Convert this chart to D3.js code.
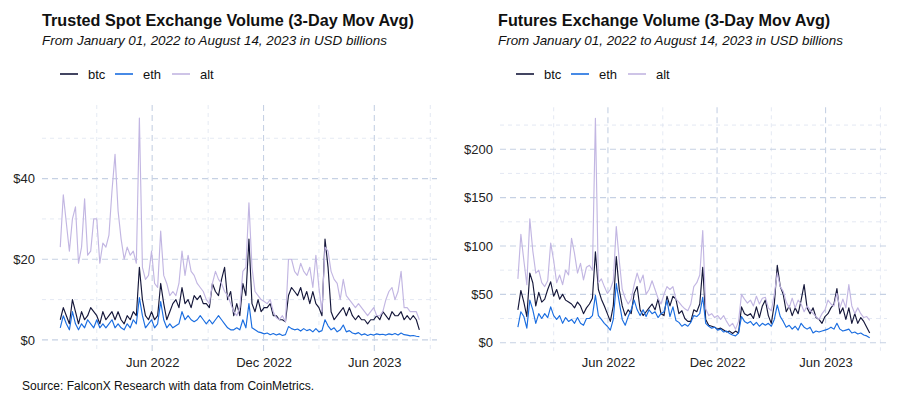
<!DOCTYPE html>
<html>
<head>
<meta charset="utf-8">
<script src="https://cdn.jsdelivr.net/npm/d3@7"></script>
<style>
  body { margin: 0; background: #fff; }
  svg { font-family: "Liberation Sans", Arial, sans-serif; }
</style>
</head>
<body>
<div id="chart"></div>
<script>
// one reading every 5 days, Jan 01 2022 -> Aug 14 2023 (in USD billions)
const START = new Date(2022, 0, 1);
const STEP_DAYS = 5;

const spotBtc = [5,8,6,4,10,7,4,7,5,6, 8,7,6,4,7,5,6,7,5,7, 5,4,6,5,7,6,18,10,6,5,
  7,5,6,14,9,5,7,9,10,8, 13,9,10,8,11,10,11,9,9,8, 14,12,11,15,18,10,12,6,9,6,
  14,11,25,9,7,10,7,8,8,9, 6,6,5,5,4.5,11,13,12,11,13, 10,12,9,12,9,8,6,25,18,7,
  5,6,7,8,6,8,6,5,6,5, 5,4,5,5,6,5,7,6,5,7, 6,6,7,5,6,5,6,5,2.5];
const spotEth = [3,6,4,2.5,7,4,2.5,4,3,5, 4,3,5,3,4,3,4,5,3,4, 3,2.5,4,3,5,4,10.5,6,3,4,
  5,3,4,9.5,5,3,4,3,3.5,4, 7,5,6,5,4.5,5,6,5,4,5, 4,5,6,5,4,3,2.5,2.5,3,2.5,
  5,3,9,3,2.5,2,1.8,1.5,1.7,1.3, 1.6,1.2,1.5,1.1,1.3,3.3,2.8,2.5,2.7,2.2, 2.8,2.3,2.6,2,2.8,2,2.3,5,3.5,2.5,
  3,2,2.5,3.7,2,2.3,1.7,1.5,1.8,1.2, 1.5,1.1,1.4,1.2,1.5,1.3,1.4,1.2,1.5,1.3, 1.6,1.2,1.7,1.3,1.2,1,1.1,0.9,0.8];
const spotAlt = [23,36,29,22,30,33,19,23,35,21, 22,30,30,19,24,23,26,37,46,32, 25,20,23,21,22,19,55,18,15,16,
  22,14,13,27,16,14,11,12,11,14, 22,16,21,17,16,14,13,12,10,9, 14,17,15,14,12,11,9,7,6,8,
  17,18,34,18,12,11,10,9.5,9,10, 7,5.5,5,6,4.5,20,20,17,16,19, 17,16,18,13,21,13,7,23,22,17,
  15,14,10,15,11,10,9,8,9,8, 7,6,7,8,6,6,7,10,12,13, 10,12,17,8,8,7,7,7,5];

const futBtc = [34,54,42,27,72,62,38,52,42,45, 55,63,48,55,45,50,44,42,40,36, 42,38,30,36,40,46,94,55,45,38,
  30,22,38,89,55,38,28,34,30,51, 58,34,28,32,36,40,34,45,30,28, 48,38,48,45,30,33,25,22,22,34,
  32,40,78,24,18,17,16,14,15,13, 11,12,9.5,12,10,37,30,28,30,25, 37,26,38,44,28,20,40,80,58,50,
  32,38,28,36,30,44,60,36,30,36, 26,24,20,27,30,36,40,56,30,36, 24,36,20,30,20,26,22,16,10];
const futEth = [16,32,27,15,44,34,20,30,25,30, 26,37,28,24,28,20,26,22,24,20, 26,20,18,25,25,28,49,28,24,20,
  17,13,24,61,42,24,18,27,34,44, 34,28,34,27,34,30,32,26,30,32, 44,27,37,23,21,17,19,17,21,28,
  27,30,47,20,17,15,16,13,14,11, 12,9.5,8,7,10,27,22,20,22,18, 21,17,20,18,20,17,24,39,27,22,
  16,18,14,17,13,20,16,14,16,10, 12,11,12,13,14,16,14,20,14,12, 13,14,10,11,9,10,8,7,5];
const futAlt = [66,112,85,60,128,95,72,75,62,58, 64,103,85,62,70,60,75,70,108,92, 72,82,65,78,80,75,232,62,66,58,
  51,55,64,120,85,55,46,40,45,60, 72,62,70,50,55,64,55,46,40,50, 58,55,58,45,42,38,35,33,40,58,
  62,70,116,35,28,30,26,28,24,28, 22,17,20,14,22,50,45,41,44,38, 48,40,46,47,36,33,50,72,58,53,
  42,36,46,36,44,40,32,38,34,30, 27,24,30,34,44,40,38,51,36,45, 36,60,38,30,36,30,26,27,23];

const seriesNames = ["btc", "eth", "alt"];
const colors = { btc: "#15173a", eth: "#1a6de0", alt: "#c2b6e2" };

const xMajor = [new Date(2022, 5, 1), new Date(2022, 11, 1), new Date(2023, 5, 1)];
const xMinor = [new Date(2022, 2, 2), new Date(2022, 8, 1), new Date(2023, 2, 2), new Date(2023, 8, 1)];

const spotMajor = [0, 20, 40];
const spotMinor = [10, 30, 50];
const futMajor = [0, 50, 100, 150, 200];
const futMinor = [25, 75, 125, 175, 225];

const dates = spotBtc.map((_, i) => d3.timeDay.offset(START, i * STEP_DAYS));

const width = 900, height = 400;
const svg = d3.select("#chart").append("svg")
  .attr("width", width).attr("height", height);

function panel(opt) {
  const g = svg.append("g");
  const pad = 29.5; // ggplot-ish expansion, in days
  const x = d3.scaleTime()
    .domain([d3.timeDay.offset(dates[0], -pad), d3.timeDay.offset(dates[dates.length - 1], pad)])
    .range([opt.left, opt.right]);
  const y = d3.scaleLinear().domain(opt.yDomain).range([opt.bottom, opt.top]);

  // grid
  const gridCol = "#c6d1e4";
  g.selectAll(".hmin").data(opt.yMinor).enter().append("line")
    .attr("x1", opt.left).attr("x2", opt.right)
    .attr("y1", d => y(d)).attr("y2", d => y(d))
    .attr("stroke", "#d8e0ee").attr("stroke-width", 0.7).attr("stroke-dasharray", "4,4");
  g.selectAll(".vmin").data(xMinor).enter().append("line")
    .attr("y1", opt.top).attr("y2", opt.bottom)
    .attr("x1", d => x(d)).attr("x2", d => x(d))
    .attr("stroke", "#d8e0ee").attr("stroke-width", 0.7).attr("stroke-dasharray", "4,4");
  g.selectAll(".hmaj").data(opt.yMajor).enter().append("line")
    .attr("x1", opt.left).attr("x2", opt.right)
    .attr("y1", d => y(d)).attr("y2", d => y(d))
    .attr("stroke", gridCol).attr("stroke-width", 1.1).attr("stroke-dasharray", "6,4");
  g.selectAll(".vmaj").data(xMajor).enter().append("line")
    .attr("y1", opt.top).attr("y2", opt.bottom)
    .attr("x1", d => x(d)).attr("x2", d => x(d))
    .attr("stroke", gridCol).attr("stroke-width", 1.1).attr("stroke-dasharray", "6,4");

  // axis labels
  const yAxis = g.append("g").attr("transform", `translate(${opt.left},0)`)
    .call(d3.axisLeft(y).tickValues(opt.yMajor).tickSize(0).tickPadding(7).tickFormat(d => "$" + d));
  const xAxis = g.append("g").attr("transform", `translate(0,${opt.bottom})`)
    .call(d3.axisBottom(x).tickValues(xMajor).tickSize(0).tickPadding(7).tickFormat(d3.timeFormat("%b %Y")));
  [yAxis, xAxis].forEach(a => {
    a.select(".domain").remove();
    a.selectAll("text").attr("font-size", 13).attr("fill", "#222")
      .attr("font-family", "Liberation Sans, Arial, sans-serif");
  });

  // lines
  const line = d3.line().x((d, i) => x(dates[i])).y(d => y(d));
  seriesNames.forEach(name => {
    g.append("path").datum(opt.data[name])
      .attr("fill", "none").attr("stroke", colors[name])
      .attr("stroke-width", 1.15).attr("stroke-linejoin", "round")
      .attr("d", line);
  });

  // titles
  g.append("text").attr("x", opt.titleX).attr("y", 26)
    .attr("font-size", 16.2).attr("font-weight", "bold").attr("fill", "#111")
    .text(opt.title);
  g.append("text").attr("x", opt.titleX).attr("y", 45)
    .attr("font-size", 13.4).attr("font-style", "italic").attr("fill", "#111")
    .text("From January 01, 2022 to August 14, 2023 in USD billions");

  // legend
  const leg = g.append("g").attr("transform", `translate(${opt.titleX + 18},74)`);
  const offs = [0, 55, 112];
  seriesNames.forEach((name, i) => {
    leg.append("line").attr("x1", offs[i]).attr("x2", offs[i] + 18)
      .attr("stroke", colors[name]).attr("stroke-width", 1.6);
    leg.append("text").attr("x", offs[i] + 28).attr("y", 4.5)
      .attr("font-size", 13).attr("fill", "#111").text(name);
  });
}

panel({
  left: 42, right: 437, top: 105, bottom: 351,
  yDomain: [-2.75, 58.25], yMajor: spotMajor, yMinor: spotMinor,
  data: { btc: spotBtc, eth: spotEth, alt: spotAlt },
  titleX: 42, title: "Trusted Spot Exchange Volume (3-Day Mov Avg)"
});

panel({
  left: 500, right: 887, top: 107.3, bottom: 350.8,
  yDomain: [-8.4, 243.4], yMajor: futMajor, yMinor: futMinor,
  data: { btc: futBtc, eth: futEth, alt: futAlt },
  titleX: 498, title: "Futures Exchange Volume (3-Day Mov Avg)"
});

svg.append("text").attr("x", 22).attr("y", 390)
  .attr("font-size", 12).attr("fill", "#111")
  .text("Source: FalconX Research with data from CoinMetrics.");
</script>
</body>
</html>
